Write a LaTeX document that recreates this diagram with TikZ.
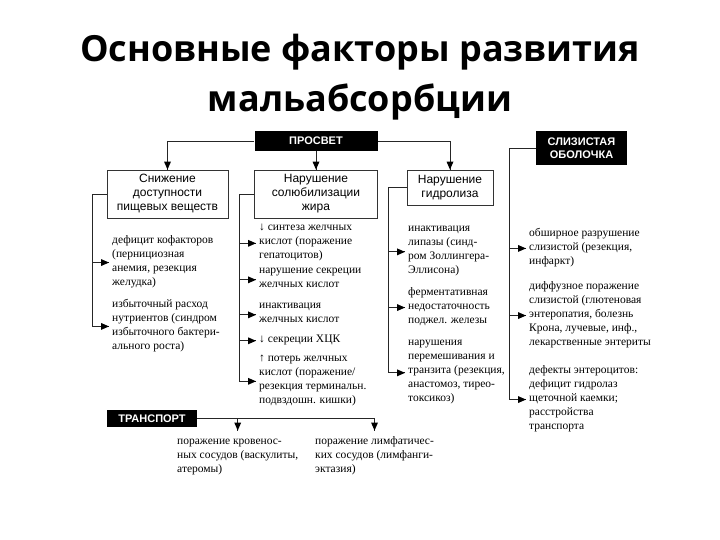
\documentclass[tikz,border=0pt]{standalone}
\usepackage{fontspec}
\setmainfont{Liberation Serif}
\newfontfamily\boxfont{Liberation Sans}
\newfontfamily\titlefont{Open Sans}
\usetikzlibrary{positioning}
\tikzset{
  link/.style={draw=black!85,line width=0.8pt},
  headright/.pic={\fill[black] (0,0) -- (-8,3.5) -- (-8,-3.5) -- cycle;},
  headdown/.pic={\fill[black] (0,0) -- (-3.5,8) -- (3.5,8) -- cycle;},
  factor/.style={draw=black!80,line width=0.9pt,font=\boxfont\fontsize{12}{14}\selectfont,align=center,inner sep=0pt},
  header/.style={fill=black,text=white,font=\boxfont\bfseries\fontsize{11}{12.5}\selectfont,align=center,inner sep=0pt},
  cause/.style={font=\fontsize{11.5}{14}\selectfont,align=left,anchor=south west,inner sep=0pt,
    execute at end node={\rule[-3.5pt]{0pt}{0pt}}},
  heading/.style={font=\titlefont\bfseries\fontsize{36}{44}\selectfont,anchor=base}
}
\begin{document}
\begin{tikzpicture}[x=1pt,y=1pt]
\useasboundingbox (0,0) rectangle (720,-540);
\node[heading] (title) at (360,-62) {Основные факторы развития};
\node[heading] (title2) at (360,-112) {мальабсорбции};

\node[header,minimum width=123pt,minimum height=20pt] (lumen) at (316,-141) {ПРОСВЕТ};
\node[factor,minimum width=121pt,minimum height=48pt] (supply) at (167.5,-194) {Снижение\\доступности\\пищевых веществ};
\node[factor,minimum width=123pt,minimum height=48pt] (solub) at (316,-194) {Нарушение\\солюбилизации\\жира};
\node[factor,minimum width=86pt,minimum height=35pt] (hydro) at (450,-187.5) {Нарушение\\гидролиза};
\node[header,minimum width=91pt,minimum height=34pt] (mucosa) at (581.5,-148) {СЛИЗИСТАЯ\\ОБОЛОЧКА};
\node[header,minimum width=90pt,minimum height=17pt] (transp) at (152,-418.5) {ТРАНСПОРТ};

\draw[link] (lumen.west) -| (supply.north);
\draw[link] (lumen.south) -- (solub.north);
\draw[link] (lumen.east) -| (hydro.north);
\foreach \n in {supply,solub,hydro}
  \pic at (\n.north) {headdown};

\node[cause] (c11) at (112,-289.5) {дефицит кофакторов\\(пернициозная\\анемия, резекция\\желудка)};
\node[cause] (c12) at (112,-353.5) {избыточный расход\\нутриентов (синдром\\избыточного бактери-\\ального роста)};

\node[cause] (c21) at (259,-262.5) {↓ синтеза желчных\\кислот (поражение\\гепатоцитов)};
\node[cause] (c22) at (259,-291.5) {нарушение секреции\\желчных кислот};
\node[cause] (c23) at (259,-326.5) {инактивация\\желчных кислот};
\node[cause] (c24) at (259,-346.5) {↓ секреции ХЦК};
\node[cause] (c25) at (259,-407.5) {↑ потерь желчных\\кислот (поражение/\\резекция терминальн.\\подвздошн. кишки)};

\node[cause] (c31) at (408,-277.5) {инактивация\\липазы (синд-\\ром Золлингера-\\Эллисона)};
\node[cause] (c32) at (408,-327.5) {ферментативная\\недостаточность\\поджел. железы};
\node[cause] (c33) at (408,-405.5) {нарушения\\перемешивания и\\транзита (резекция,\\анастомоз, тирео-\\токсикоз)};

\node[cause] (c41) at (529,-268.5) {обширное разрушение\\слизистой (резекция,\\инфаркт)};
\node[cause] (c42) at (529,-349.5) {диффузное поражение\\слизистой (глютеновая\\энтеропатия, болезнь\\Крона, лучевые, инф.,\\лекарственные энтериты};
\node[cause] (c43) at (529,-433.5) {дефекты энтероцитов:\\дефицит гидролаз\\щеточной каемки;\\расстройства\\транспорта};

\node[cause] (t1) at (177,-476.5) {поражение кровенос-\\ных сосудов (васкулиты,\\атеромы)};
\node[cause] (t2) at (315,-476.5) {поражение лимфатичес-\\ких сосудов (лимфанги-\\эктазия)};

\coordinate (b1) at (92,0);
\coordinate (b2) at (239,0);
\coordinate (b3) at (388,0);
\coordinate (b4) at (509,0);

\draw[link] (supply.west) -| (b1 |- c12.west);
\draw[link] (solub.west) -| (b2 |- c25.west);
\draw[link] (hydro.west) -| (b3 |- c33.west);
\draw[link] (mucosa.west) -| (b4 |- c43.west);
\foreach \c/\b in {c11/b1,c12/b1,c21/b2,c22/b2,c23/b2,c24/b2,c25/b2,c31/b3,c32/b3,c33/b3,c41/b4,c42/b4,c43/b4}{
  \draw[link] (\b |- \c.west) -- ([xshift=-3pt]\c.west);
  \pic at ([xshift=-3pt]\c.west) {headright};
}

\draw[link] (transp.east) -- (transp.east -| t2.north);
\foreach \t in {t1,t2}{
  \draw[link] (transp.east -| \t.north) -- ++(0,-12);
  \pic at ([yshift=-12pt]transp.east -| \t.north) {headdown};
}
\end{tikzpicture}
\end{document}
